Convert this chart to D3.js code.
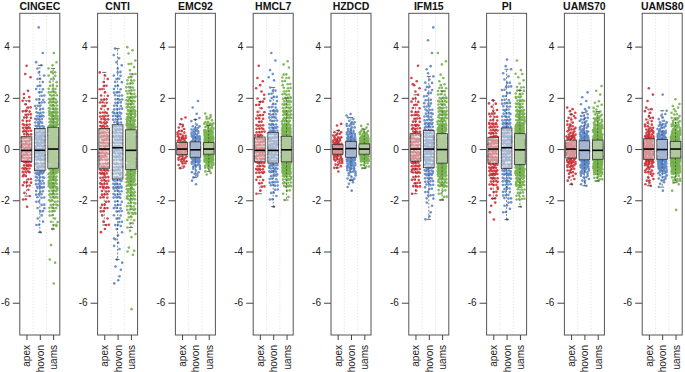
<!DOCTYPE html>
<html>
<head>
<meta charset="utf-8">
<script src="https://cdn.jsdelivr.net/npm/d3@7"></script>
<style>
  body { margin: 0; background: #fff; }
  svg { display: block; font-family: "Liberation Sans", Arial, sans-serif; }
</style>
</head>
<body>
<div id="chart"></div>
<script>
const panels = ["CINGEC", "CNTI", "EMC92", "HMCL7", "HZDCD", "IFM15", "PI", "UAMS70", "UAMS80"];
const cohorts = ["apex", "hovon", "uams"];
const yTicks = [-6, -4, -2, 0, 2, 4];

// binned scores: [bin start, bin width, counts per bin]
const binsApex = [
  [-2.5, 0.5, [1, 5, 10, 18, 26, 26, 18, 12, 7, 3, 2, 1]],
  [-3.5, 0.5, [2, 5, 9, 12, 16, 21, 25, 25, 21, 16, 10, 7, 4]],
  [-0.75, 0.25, [5, 12, 20, 20, 14, 8, 4, 2]],
  [-2, 0.5, [2, 8, 18, 26, 26, 16, 10, 7, 4, 2, 1]],
  [-1, 0.25, [1, 7, 13, 21, 21, 13, 7, 2]],
  [-2, 0.5, [2, 13, 22, 27, 27, 20, 13, 8, 4, 3, 1]],
  [-3, 0.5, [1, 3, 8, 17, 25, 30, 30, 20, 12, 5]],
  [-1.5, 0.25, [1, 4, 8, 12, 16, 20, 20, 14, 10, 8, 5, 4, 2]],
  [-1.5, 0.25, [3, 5, 9, 13, 17, 20, 20, 16, 12, 8, 5, 3, 2, 1, 1, 1]]
];
const binsHovon = [
  [-3.5, 0.5, [1, 5, 8, 12, 18, 26, 31, 31, 26, 18, 12, 8, 5, 3, 1, 0, 1]],
  [-5.5, 0.5, [2, 3, 2, 4, 5, 8, 12, 16, 20, 22, 23, 23, 22, 18, 14, 10, 7, 4, 3]],
  [-1.5, 0.25, [1, 3, 7, 12, 20, 27, 27, 18, 12, 7, 3, 1, 1, 1]],
  [-2.5, 0.5, [1, 7, 14, 23, 31, 31, 23, 16, 10, 7, 3, 2, 1]],
  [-1.75, 0.25, [1, 3, 7, 10, 16, 22, 27, 27, 22, 14, 9, 5, 2]],
  [-3, 0.5, [2, 3, 9, 17, 26, 32, 32, 25, 17, 12, 8, 5, 2, 1, 1, 1]],
  [-3, 0.5, [1, 7, 12, 18, 25, 29, 29, 25, 18, 13, 9, 5, 3]],
  [-1.5, 0.25, [3, 7, 13, 20, 26, 29, 27, 21, 16, 10, 8, 5, 3, 1, 2]],
  [-1.75, 0.25, [1, 3, 8, 14, 21, 27, 31, 30, 23, 17, 10, 5, 3, 0, 0, 1]]
];
const binsUams = [
  [-5.5, 0.5, [1, 0, 2, 1, 2, 7, 14, 23, 33, 45, 52, 52, 44, 33, 23, 14, 8, 4, 1]],
  [-6.5, 0.5, [1, 0, 0, 0, 2, 2, 4, 9, 17, 26, 36, 45, 52, 51, 44, 34, 25, 17, 10, 5, 3]],
  [-1, 0.25, [4, 16, 39, 65, 65, 45, 26, 13, 7, 3]],
  [-2, 0.5, [5, 23, 49, 68, 68, 45, 29, 20, 14, 9, 3]],
  [-0.75, 0.25, [8, 26, 45, 45, 29, 13, 4]],
  [-2, 0.5, [9, 29, 49, 65, 65, 45, 29, 20, 12, 4, 2, 1]],
  [-2.5, 0.5, [1, 13, 32, 49, 62, 62, 49, 32, 20, 12, 5, 2]],
  [-1.25, 0.25, [8, 23, 36, 45, 52, 49, 39, 26, 20, 13, 8, 4, 2, 1, 2]],
  [-2.5, 0.25, [1, 0, 0, 1, 3, 10, 23, 36, 49, 55, 52, 36, 23, 14, 9, 5, 3, 2]]
];

// box stats [q1, median, q3]
const boxApex = [[-0.48, -0.05, 0.48], [-0.75, 0, 0.8], [-0.22, 0, 0.26], [-0.5, -0.05, 0.47], [-0.2, 0, 0.17],
  [-0.47, 0, 0.6], [-0.55, 0, 0.46], [-0.35, 0, 0.35], [-0.4, 0, 0.4]];
const boxHovon = [[-0.85, -0.05, 0.8], [-1.17, 0.05, 0.95], [-0.32, -0.03, 0.28], [-0.55, -0.05, 0.65], [-0.32, 0.02, 0.3],
  [-0.73, 0, 0.72], [-0.76, 0.05, 0.82], [-0.42, -0.05, 0.32], [-0.4, -0.02, 0.37]];
const boxUams = [[-0.75, 0, 0.85], [-0.8, -0.05, 0.75], [-0.2, 0, 0.25], [-0.5, -0.03, 0.5], [-0.2, 0, 0.2],
  [-0.55, -0.02, 0.6], [-0.6, -0.03, 0.6], [-0.4, -0.05, 0.35], [-0.35, 0, 0.3]];

const colors = ["#d22f35", "#5b86c6", "#76b24b"];

const width = 685, height = 372;
const panelW = 40;
const plotTop = 13.3, plotBottom = 335;

const svg = d3.select("#chart").append("svg")
  .attr("width", width)
  .attr("height", height);

const y = d3.scaleLinear().domain([-7.26, 5.30]).range([plotBottom, plotTop]);
const x = d3.scaleLinear().domain([0.5, 3.5]).range([0, panelW]);
const panelLeft = d3.scaleLinear().domain([0, 8]).range([19.8, 642.2]);

const allBins = [binsApex, binsHovon, binsUams];
const allBoxes = [boxApex, boxHovon, boxUams];

// spread the points of each bin (deterministic jitter)
function spread(bin) {
  const [start, step, counts] = bin;
  const pts = [];
  let k = 0;
  counts.forEach((n, b) => {
    for (let j = 0; j < n; j++) {
      const fy = n === 1 ? 0.5 : ((j + 1) * 0.7548776662 + b * 0.31) % 1;
      const fx = ((k + 1) * 0.5698402910) % 1;
      pts.push({v: start + step * (b + fy), dx: (fx - 0.5) * 0.7});
      k++;
    }
  });
  return pts;
}

panels.forEach((name, i) => {
  const g = svg.append("g")
    .attr("transform", `translate(${panelLeft(i)},0)`);

  // dotted separators
  g.selectAll(".sep")
    .data([1.5, 2.5])
    .join("line")
      .attr("x1", d => x(d)).attr("x2", d => x(d))
      .attr("y1", plotTop).attr("y2", plotBottom)
      .attr("stroke", "#cfcfcf")
      .attr("stroke-width", 0.7)
      .attr("stroke-dasharray", "1,2");

  cohorts.forEach((c, ci) => {
    const pts = spread(allBins[ci][i]);
    g.append("g").selectAll("circle")
      .data(pts)
      .join("circle")
        .attr("cx", d => x(ci + 1 + d.dx))
        .attr("cy", d => y(d.v))
        .attr("r", 1.3)
        .attr("fill", colors[ci])
        .attr("fill-opacity", 0.9);

    const [q1, med, q3] = allBoxes[ci][i];
    const iqr = q3 - q1;
    const vals = pts.map(d => d.v);
    const wLo = d3.min(vals.filter(v => v >= q1 - 1.5 * iqr));
    const wHi = d3.max(vals.filter(v => v <= q3 + 1.5 * iqr));
    const bx0 = x(ci + 1 - 0.4), bx1 = x(ci + 1 + 0.4), cx = x(ci + 1);

    g.append("line")
      .attr("x1", cx).attr("x2", cx)
      .attr("y1", y(q3)).attr("y2", y(wHi))
      .attr("stroke", "#333").attr("stroke-width", 0.6).attr("stroke-dasharray", "2,1.5");
    g.append("line")
      .attr("x1", cx).attr("x2", cx)
      .attr("y1", y(q1)).attr("y2", y(wLo))
      .attr("stroke", "#333").attr("stroke-width", 0.6).attr("stroke-dasharray", "2,1.5");
    g.selectAll(null)
      .data([wLo, wHi])
      .join("line")
        .attr("x1", x(ci + 1 - 0.15)).attr("x2", x(ci + 1 + 0.15))
        .attr("y1", d => y(d)).attr("y2", d => y(d))
        .attr("stroke", "#333").attr("stroke-width", 0.7);

    g.append("rect")
      .attr("x", bx0)
      .attr("y", y(q3))
      .attr("width", bx1 - bx0)
      .attr("height", y(q1) - y(q3))
      .attr("fill", "rgba(220,220,220,0.55)")
      .attr("stroke", "#333")
      .attr("stroke-width", 0.8);
    g.append("line")
      .attr("x1", bx0).attr("x2", bx1)
      .attr("y1", y(med)).attr("y2", y(med))
      .attr("stroke", "#000")
      .attr("stroke-width", 1.6);
  });

  // frame
  g.append("rect")
    .attr("x", 0).attr("y", plotTop)
    .attr("width", panelW).attr("height", plotBottom - plotTop)
    .attr("fill", "none")
    .attr("stroke", "#555")
    .attr("stroke-width", 1);

  const yAxis = g.append("g")
    .call(d3.axisLeft(y).tickValues(yTicks).tickSize(7).tickPadding(3).tickFormat(d => String(d)));
  yAxis.select(".domain").remove();
  yAxis.selectAll(".tick line").attr("stroke", "#444");
  yAxis.selectAll("text").attr("fill", "#222").style("font-size", "10px").style("font-family", "'Liberation Sans', Arial, sans-serif");

  const xAxis = g.append("g")
    .attr("transform", `translate(0,${plotBottom})`)
    .call(d3.axisBottom(x).tickValues([1, 2, 3]).tickSize(5).tickFormat(d => cohorts[d - 1]));
  xAxis.select(".domain").remove();
  xAxis.selectAll(".tick line").attr("stroke", "#444");
  xAxis.selectAll("text")
    .attr("transform", "rotate(-90)")
    .attr("x", -10)
    .attr("y", 0)
    .attr("dy", "0.35em")
    .attr("fill", "#222")
    .style("text-anchor", "end")
    .style("font-size", "10px")
    .style("font-family", "'Liberation Sans', Arial, sans-serif");

  g.append("text")
    .attr("x", panelW / 2)
    .attr("y", 9.5)
    .attr("text-anchor", "middle")
    .style("font-size", "10.5px")
    .style("font-weight", "bold")
    .attr("fill", "#111")
    .text(name);
});
</script>
</body>
</html>
